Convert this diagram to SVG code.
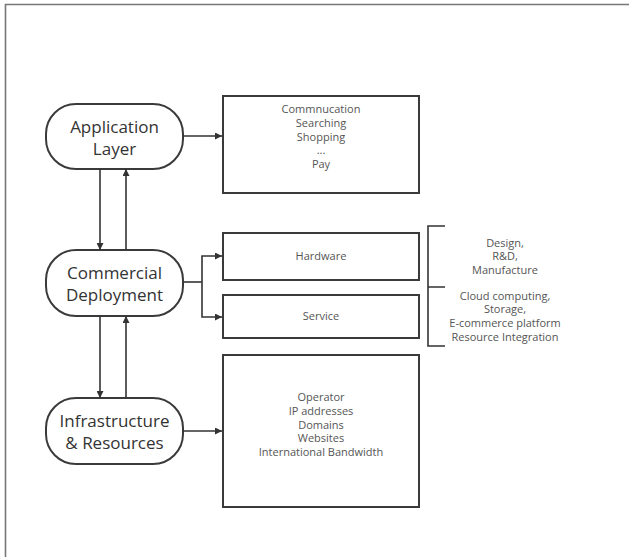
<svg xmlns="http://www.w3.org/2000/svg" width="629" height="557" viewBox="0 0 629 557">
  <defs>
    <marker id="arrow" viewBox="0 0 10 10" refX="10" refY="5" markerWidth="7" markerHeight="7" markerUnits="userSpaceOnUse" orient="auto">
      <path d="M0,0 L10,5 L0,10 z" fill="#333"/>
    </marker>
    <style>
      .pill { fill: #fff; stroke: #3a3a3a; stroke-width: 2; }
      .box { fill: #fff; stroke: #3a3a3a; stroke-width: 2; }
      .pt { font-family: "Open Sans", "Noto Sans", sans-serif; font-size: 17px; fill: #333; text-anchor: middle; }
      .st { font-family: "Open Sans", "Noto Sans", sans-serif; font-size: 11px; fill: #555; text-anchor: middle; }
      .ln { fill: none; stroke: #333; stroke-width: 1.6; }
      .ar { fill: none; stroke: #333; stroke-width: 1.6; marker-end: url(#arrow); }
    </style>
  </defs>
  <rect width="629" height="557" fill="#fff"/>
  <!-- outer frame -->
  <path d="M5.5,557 V4.5 H629" fill="none" stroke="#777" stroke-width="1.6"/>

  <g id="app-layer">
    <rect class="pill" x="46" y="104" width="137" height="65" rx="30"/>
    <text class="pt" x="114.5" y="133">Application</text>
    <text class="pt" x="114.5" y="155">Layer</text>
  </g>

  <g id="commercial">
    <rect class="pill" x="46" y="250" width="137" height="66" rx="30"/>
    <text class="pt" x="114.5" y="279">Commercial</text>
    <text class="pt" x="114.5" y="301">Deployment</text>
  </g>

  <g id="infrastructure">
    <rect class="pill" x="46" y="398" width="137" height="66" rx="30"/>
    <text class="pt" x="114.5" y="427">Infrastructure</text>
    <text class="pt" x="114.5" y="449">&amp; Resources</text>
  </g>

  <g id="app-box">
    <rect class="box" x="223" y="96" width="196" height="97"/>
    <text class="st" x="321" y="113">Commnucation</text>
    <text class="st" x="321" y="127">Searching</text>
    <text class="st" x="321" y="141">Shopping</text>
    <text class="st" x="321" y="154" font-size="8">...</text>
    <text class="st" x="321" y="168">Pay</text>
  </g>

  <g id="hardware">
    <rect class="box" x="223" y="233" width="196" height="47"/>
    <text class="st" x="321" y="260">Hardware</text>
  </g>

  <g id="service">
    <rect class="box" x="223" y="295" width="196" height="43"/>
    <text class="st" x="321" y="320">Service</text>
  </g>

  <g id="infra-box">
    <rect class="box" x="223" y="355" width="196" height="152"/>
    <text class="st" x="321" y="401">Operator</text>
    <text class="st" x="321" y="415">IP addresses</text>
    <text class="st" x="321" y="429">Domains</text>
    <text class="st" x="321" y="442">Websites</text>
    <text class="st" x="321" y="456">International Bandwidth</text>
  </g>

  <g id="details">
    <path d="M445,226 H428 V346 H445 M428,287 H445" fill="none" stroke="#333" stroke-width="1.6"/>
    <text class="st" x="505" y="247">Design,</text>
    <text class="st" x="505" y="260">R&amp;D,</text>
    <text class="st" x="505" y="274">Manufacture</text>
    <text class="st" x="505" y="300">Cloud computing,</text>
    <text class="st" x="505" y="313">Storage,</text>
    <text class="st" x="505" y="327">E-commerce platform</text>
    <text class="st" x="505" y="341">Resource Integration</text>
  </g>

  <g id="connectors">
    <path class="ar" d="M183,136 H222"/>
    <path class="ar" d="M100,169 V250"/>
    <path class="ar" d="M126,250 V169"/>
    <path class="ar" d="M100,316 V398"/>
    <path class="ar" d="M126,398 V316"/>
    <path class="ln" d="M183,282 H202"/>
    <path class="ar" d="M202,282 V256 H222"/>
    <path class="ar" d="M202,282 V317 H222"/>
    <path class="ar" d="M183,431 H222"/>
  </g>
</svg>
